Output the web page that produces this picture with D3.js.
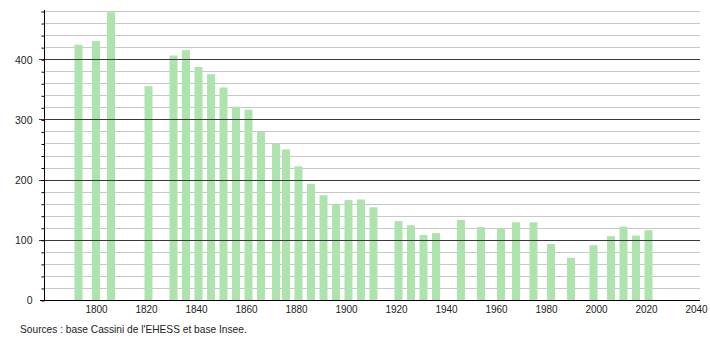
<!DOCTYPE html>
<html>
<head>
<meta charset="utf-8">
<script src="https://cdn.jsdelivr.net/npm/d3@7"></script>
<style>
body { margin: 0; background: #fff; }
text { font-family: "Liberation Sans", Arial, sans-serif; }
</style>
</head>
<body>
<div id="chart"></div>
<script>
// population by census year
var years = [1793, 1800, 1806, 1821, 1831, 1836, 1841, 1846, 1851, 1856, 1861, 1866, 1872, 1876,
             1881, 1886, 1891, 1896, 1901, 1906, 1911, 1921, 1926, 1931, 1936, 1946, 1954, 1962,
             1968, 1975, 1982, 1990, 1999, 2006, 2011, 2016, 2021];
var pop = [424, 430, 478, 355, 406, 415, 387, 375, 353, 321, 316, 279, 260, 250,
           222, 193, 174, 159, 166, 167, 154, 131, 124, 108, 111, 133, 121, 119,
           129, 129, 93, 70, 91, 106, 122, 107, 116];
var xTicks = [1800, 1820, 1840, 1860, 1880, 1900, 1920, 1940, 1960, 1980, 2000, 2020, 2040];
var yMajor = [0, 100, 200, 300, 400];
var yMinor = d3.range(0, 481, 20);
var source = "Sources : base Cassini de l'EHESS et base Insee.";

function draw() {
    var W = 710, H = 340;
    var mLeft = 44, mRight = 700, mTop = 11, mBottom = 300;

    var svg = d3.select("#chart").append("svg")
        .attr("width", W).attr("height", H);

    var x = d3.scaleLinear().domain([1779.2, 2041.6]).range([mLeft, mRight]);
    var y = d3.scaleLinear().domain([0, 480]).range([mBottom, mTop]);

    // light grid every 20
    svg.append("g").selectAll("line").data(yMinor).enter().append("line")
        .attr("x1", mLeft).attr("x2", mRight)
        .attr("y1", function(d) { return Math.round(y(d)) + 0.5; })
        .attr("y2", function(d) { return Math.round(y(d)) + 0.5; })
        .attr("stroke", "#c8c8c8").attr("stroke-width", 1);

    // bars
    svg.append("g").selectAll("rect").data(years).enter().append("rect")
        .attr("x", function(d) { return x(d) - 4; })
        .attr("width", 8)
        .attr("y", function(d, i) { return y(pop[i]); })
        .attr("height", function(d, i) { return mBottom - y(pop[i]); })
        .attr("fill", "#ade3ad");

    // dark grid every 100
    svg.append("g").selectAll("line").data(yMajor.slice(1)).enter().append("line")
        .attr("x1", mLeft - 5).attr("x2", mRight)
        .attr("y1", function(d) { return Math.round(y(d)) + 0.5; })
        .attr("y2", function(d) { return Math.round(y(d)) + 0.5; })
        .attr("stroke", "#3a3a3a").attr("stroke-width", 1);

    // y axis with minor ticks
    var yAxis = d3.axisLeft(y).tickValues(yMinor).tickSize(3)
        .tickFormat(function(d) { return d % 100 === 0 ? d : ""; })
        .tickPadding(9);
    var gy = svg.append("g").attr("transform", "translate(" + (mLeft + 0.5) + ",0.5)").call(yAxis);
    gy.select(".domain").remove();
    gy.selectAll(".tick line").attr("stroke", "#000");
    gy.selectAll(".tick text").attr("font-size", 10.5).attr("fill", "#222")
        .attr("font-family", "Liberation Sans, Arial, sans-serif");

    svg.append("line").attr("x1", mLeft + 0.5).attr("x2", mLeft + 0.5)
        .attr("y1", mTop - 1).attr("y2", mBottom)
        .attr("stroke", "#000");

    // x axis, labels only
    var xAxis = d3.axisBottom(x).tickValues(xTicks).tickSize(0).tickPadding(5)
        .tickFormat(d3.format("d"));
    var gx = svg.append("g").attr("transform", "translate(0," + (mBottom + 0.5) + ")").call(xAxis);
    gx.select(".domain").remove();
    gx.selectAll(".tick text").attr("font-size", 10).attr("fill", "#222")
        .attr("font-family", "Liberation Sans, Arial, sans-serif");
    svg.append("line").attr("x1", mLeft - 4).attr("x2", mRight)
        .attr("y1", mBottom + 0.5).attr("y2", mBottom + 0.5)
        .attr("stroke", "#000");

    svg.append("text").attr("x", 20).attr("y", 333)
        .attr("font-size", 10.2).attr("fill", "#222").text(source);
}

draw();
</script>
</body>
</html>
